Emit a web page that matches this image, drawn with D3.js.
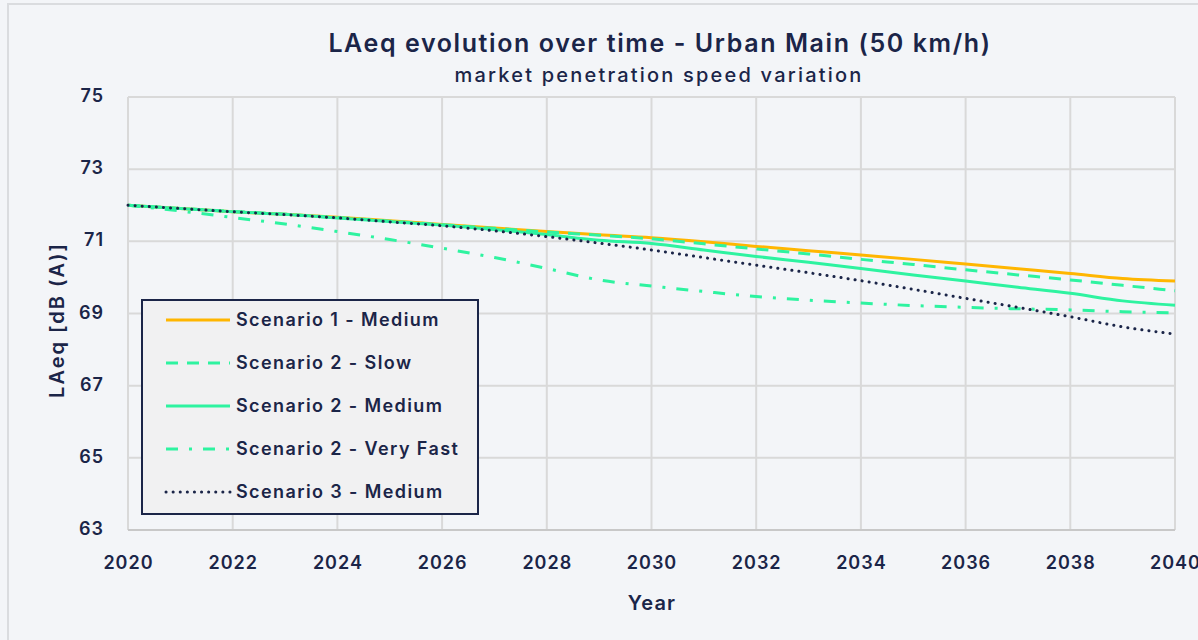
<!DOCTYPE html>
<html>
<head>
<meta charset="utf-8">
<script src="https://cdn.jsdelivr.net/npm/d3@7"></script>
<style>
  html, body { margin: 0; padding: 0; background: #f3f5f8; }
  svg { display: block; font-family: Inter, 'Noto Sans', sans-serif; }
</style>
</head>
<body>
<svg></svg>
<script>
'use strict';

// chart values
var years = d3.range(2020, 2041);
var seriesNames = ['Scenario 1 - Medium', 'Scenario 2 - Slow', 'Scenario 2 - Medium',
    'Scenario 2 - Very Fast', 'Scenario 3 - Medium'];
var s1Medium = [72.0, 71.91, 71.82, 71.75, 71.67, 71.57, 71.47, 71.37, 71.27, 71.18, 71.10,
    70.99, 70.86, 70.74, 70.62, 70.50, 70.37, 70.24, 70.11, 69.97, 69.90];
var s2Slow = [72.0, 71.91, 71.83, 71.75, 71.66, 71.56, 71.46, 71.36, 71.26, 71.17, 71.07,
    70.93, 70.79, 70.65, 70.50, 70.36, 70.21, 70.07, 69.93, 69.78, 69.63];
var s2Medium = [72.0, 71.91, 71.82, 71.75, 71.65, 71.55, 71.45, 71.33, 71.19, 71.03, 70.94,
    70.76, 70.58, 70.42, 70.25, 70.07, 69.90, 69.73, 69.56, 69.35, 69.23];
var s2VeryFast = [72.0, 71.84, 71.66, 71.48, 71.27, 71.05, 70.81, 70.55, 70.25, 69.93, 69.76,
    69.61, 69.47, 69.37, 69.29, 69.22, 69.17, 69.13, 69.10, 69.05, 69.02];
var s3Medium = [72.0, 71.91, 71.82, 71.74, 71.65, 71.54, 71.43, 71.29, 71.13, 70.95, 70.76,
    70.55, 70.34, 70.13, 69.91, 69.67, 69.42, 69.17, 68.91, 68.63, 68.43];
var xTicks = d3.range(2020, 2041, 2);
var yTicks = d3.range(63, 76, 2);

var navy = '#1b2548';
var styles = [
    { color: '#ffb600', dash: null },
    { color: '#2ef3a0', dash: '12,9' },
    { color: '#2ef3a0', dash: null },
    { color: '#2ef3a0', dash: '12,11,3,11' },
    { color: navy, dash: '0.1,7', width: 3, cap: 'round' }
];
var allSeries = [s1Medium, s2Slow, s2Medium, s2VeryFast, s3Medium];

var svg = d3.select('svg')
    .attr('width', 1198)
    .attr('height', 640);

// outer chart frame
svg.append('rect')
    .attr('x', 8).attr('y', 4)
    .attr('width', 1220).attr('height', 660)
    .attr('fill', '#f3f5f8')
    .attr('stroke', '#dadcdf')
    .attr('stroke-width', 2);

var x = d3.scaleLinear().domain([2020, 2040]).range([128, 1175]);
var y = d3.scaleLinear().domain([63, 75]).range([530, 97]);

// grid
var grid = svg.append('g');
grid.selectAll('.vgrid')
    .data(xTicks)
    .enter().append('line')
    .attr('x1', function (d) { return x(d); })
    .attr('x2', function (d) { return x(d); })
    .attr('y1', y(75)).attr('y2', y(63))
    .attr('stroke', '#d9d9d9').attr('stroke-width', 2);
grid.selectAll('.hgrid')
    .data(yTicks)
    .enter().append('line')
    .attr('x1', x(2020)).attr('x2', x(2040))
    .attr('y1', function (d) { return y(d); })
    .attr('y2', function (d) { return y(d); })
    .attr('stroke', function (d) { return d === 63 ? '#c8c8c8' : '#d9d9d9'; })
    .attr('stroke-width', 2);

// axes (labels only)
var xAxis = svg.append('g')
    .attr('transform', 'translate(0,' + y(63) + ')')
    .call(d3.axisBottom(x).tickValues(xTicks).tickFormat(d3.format('d')).tickSize(0).tickPadding(26));
var yAxis = svg.append('g')
    .attr('transform', 'translate(' + x(2020) + ',0)')
    .call(d3.axisLeft(y).tickValues(yTicks).tickSize(0).tickPadding(24));
[xAxis, yAxis].forEach(function (a) {
    a.select('.domain').remove();
    a.selectAll('text')
        .attr('fill', navy)
        .style('font-size', '18px')
        .style('font-weight', 600)
        .style('letter-spacing', '1px')
        .style('font-family', 'Inter, sans-serif');
});
yAxis.selectAll('text').attr('dy', '0.25em');

// lines
var line = d3.line()
    .x(function (d, i) { return x(years[i]); })
    .y(function (d) { return y(d); })
    .curve(d3.curveMonotoneX);

svg.append('g').selectAll('path')
    .data(allSeries)
    .enter().append('path')
    .attr('d', line)
    .attr('fill', 'none')
    .attr('stroke', function (d, i) { return styles[i].color; })
    .attr('stroke-width', function (d, i) { return styles[i].width || 3; })
    .attr('stroke-dasharray', function (d, i) { return styles[i].dash; })
    .attr('stroke-linecap', function (d, i) { return styles[i].cap || 'butt'; });

// titles
svg.append('text')
    .attr('x', 660).attr('y', 52)
    .attr('text-anchor', 'middle')
    .attr('fill', navy)
    .style('font-size', '25px').style('font-weight', 600)
    .style('letter-spacing', '1.6px')
    .text('LAeq evolution over time - Urban Main (50 km/h)');
svg.append('text')
    .attr('x', 659).attr('y', 82)
    .attr('text-anchor', 'middle')
    .attr('fill', navy)
    .style('font-size', '20px').style('font-weight', 500)
    .style('letter-spacing', '2.2px')
    .text('market penetration speed variation');
svg.append('text')
    .attr('x', 652).attr('y', 610)
    .attr('text-anchor', 'middle')
    .attr('fill', navy)
    .style('font-size', '20px').style('font-weight', 600)
    .style('letter-spacing', '1.2px')
    .text('Year');
svg.append('text')
    .attr('transform', 'translate(64,320) rotate(-90)')
    .attr('text-anchor', 'middle')
    .attr('fill', navy)
    .style('font-size', '20px').style('font-weight', 600)
    .style('letter-spacing', '2px')
    .text('LAeq [dB (A)]');

// legend
var legend = svg.append('g');
legend.append('rect')
    .attr('x', 142).attr('y', 300)
    .attr('width', 336).attr('height', 214)
    .attr('fill', '#f1f1f2')
    .attr('stroke', navy)
    .attr('stroke-width', 2);
var item = legend.selectAll('.item')
    .data(seriesNames)
    .enter().append('g')
    .attr('transform', function (d, i) { return 'translate(0,' + (320 + i * 43) + ')'; });
item.append('line')
    .attr('x1', 166).attr('x2', 230)
    .attr('y1', 0).attr('y2', 0)
    .attr('stroke', function (d, i) { return styles[i].color; })
    .attr('stroke-width', function (d, i) { return styles[i].width || 3; })
    .attr('stroke-dasharray', function (d, i) { return styles[i].dash; })
    .attr('stroke-linecap', function (d, i) { return styles[i].cap || 'butt'; });
item.append('text')
    .attr('x', 236).attr('y', 0)
    .attr('dy', '0.35em')
    .attr('fill', navy)
    .style('font-size', '18px').style('font-weight', 600)
    .style('letter-spacing', '1.4px')
    .text(function (d) { return d; });
</script>
</body>
</html>
